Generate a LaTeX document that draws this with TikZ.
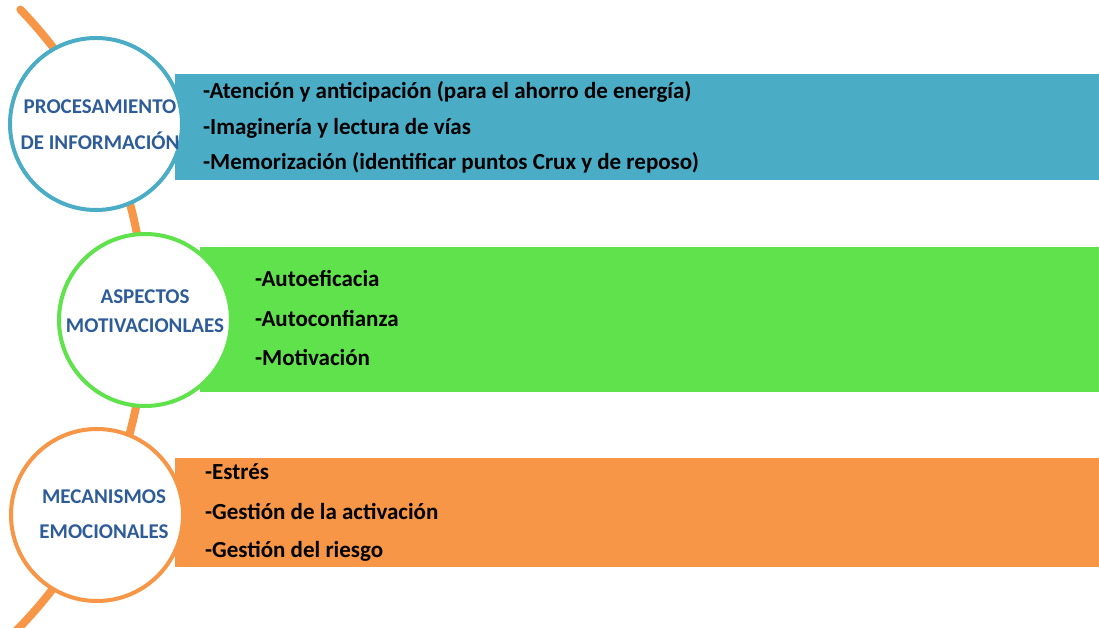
\documentclass[tikz,border=0pt]{standalone}
\usepackage{fontspec}
\setmainfont{Carlito}
\definecolor{bandblue}{HTML}{4BACC6}
\definecolor{bandgreen}{HTML}{5FE24B}
\definecolor{bandorange}{HTML}{F79646}
\definecolor{titleblue}{HTML}{2E5C99}
\tikzset{
  hoop/.style={circle, draw=#1, line width=4pt, fill=white, minimum size=172pt, inner sep=0pt},
  title/.style={text=titleblue, font=\bfseries\fontsize{21}{21}\selectfont},
  item/.style={anchor=west, inner sep=0pt, font=\bfseries\fontsize{23}{23}\selectfont}
}
\begin{document}
\begin{tikzpicture}[x=1pt, y=1pt]
\useasboundingbox (0,0) rectangle (1099,628);
% bands
\path [fill=bandblue]   (175,448) rectangle (1099,554);
\path [fill=bandgreen]  (200,236) rectangle (1099,381);
\path [fill=bandorange] (175,61)  rectangle (1099,170);
% spine
\coordinate (hub) at (-299,310);
\draw [bandorange, line width=8pt, line cap=round] (hub) ++(44:444pt) arc (44:-47:444pt);
% circles
\node[hoop=bandblue]   (proc) at (96,504)  {};
\node[hoop=bandgreen]  (moti) at (145,308) {};
\node[hoop=bandorange] (emoc) at (97,113)  {};
\node[title] (proc1) at (100,521) {PROCESAMIENTO};
\node[title] (proc2) at (100,487) {DE INFORMACIÓN};
\node[title] (moti1) at (145,331) {ASPECTOS};
\node[title] (moti2) at (145,302) {MOTIVACIONLAES};
\node[title] (emoc1) at (104,131) {MECANISMOS};
\node[title] (emoc2) at (104,96)  {EMOCIONALES};
% items
\node[item] (a1) at (203,536) {-Atención y anticipación (para el ahorro de energía)};
\node[item] (a2) at (203,500) {-Imaginería y lectura de vías};
\node[item] (a3) at (203,465) {-Memorización (identificar puntos Crux y de reposo)};
\node[item] (b1) at (255,349) {-Autoeficacia};
\node[item] (b2) at (255,309) {-Autoconfianza};
\node[item] (b3) at (255,270) {-Motivación};
\node[item] (c1) at (205,156) {-Estrés};
\node[item] (c2) at (205,116) {-Gestión de la activación};
\node[item] (c3) at (205,77)  {-Gestión del riesgo};
\end{tikzpicture}
\end{document}
